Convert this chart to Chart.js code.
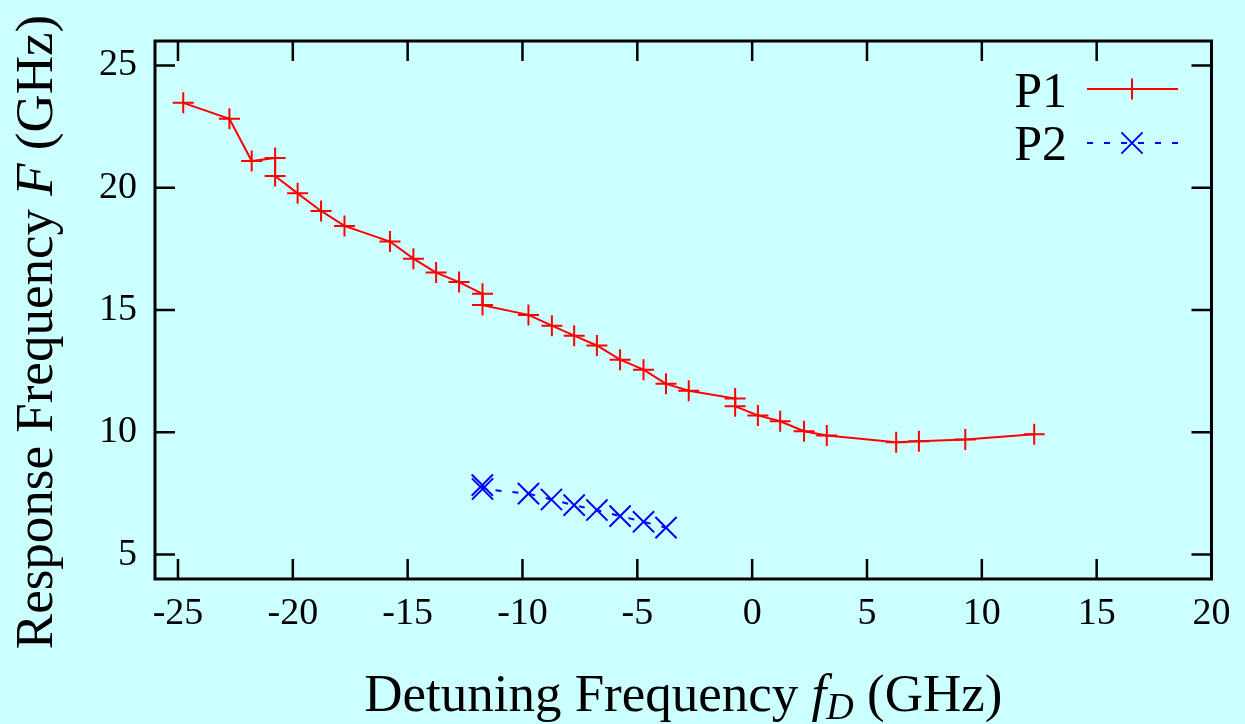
<!DOCTYPE html>
<html>
<head>
<meta charset="utf-8">
<script src="https://cdn.jsdelivr.net/npm/chart.js@4.4.1/dist/chart.umd.min.js"></script>
<style>
  html, body { margin: 0; padding: 0; background: #ccffff; }
  #wrap { width: 1245px; height: 724px; position: relative; }
</style>
</head>
<body>
<div id="wrap"><canvas id="chart"></canvas></div>
<script>
// ---------------------------------------------------------------------------
// Data
// ---------------------------------------------------------------------------
const p1X = [-24.77, -22.76, -21.79, -20.77, -20.77, -19.79, -18.77, -17.75, -15.77, -14.75,
             -13.76, -12.76, -11.74, -11.74, -9.74, -8.72, -7.75, -6.76, -5.75, -4.73,
             -3.75, -2.76, -0.74, -0.74, 0.25, 1.22, 2.26, 3.25, 6.27, 7.26, 9.28, 12.28];
const p1Y = [23.47, 22.82, 21.09, 21.22, 20.48, 19.77, 19.05, 18.44, 17.8, 17.1,
             16.53, 16.14, 15.66, 15.2, 14.8, 14.36, 13.95, 13.55, 12.97, 12.56,
             11.98, 11.7, 11.38, 11.06, 10.69, 10.45, 10.04, 9.87, 9.59, 9.63, 9.7, 9.92];

const p2X = [-11.75, -11.74, -9.74, -8.74, -7.75, -6.76, -5.75, -4.73, -3.75];
const p2Y = [7.84, 7.68, 7.49, 7.25, 7.02, 6.82, 6.57, 6.34, 6.1];

const xTicks = [-25, -20, -15, -10, -5, 0, 5, 10, 15, 20];
const yTicks = [5, 10, 15, 20, 25];

const seriesNames = ["P1", "P2"];

const SERIF = "'Liberation Serif', serif";
const RED = "#ff0000";
const BLUE = "#0000ff";

const toPoints = (xs, ys) => xs.map((x, i) => ({ x, y: ys[i] }));

// ---------------------------------------------------------------------------
// Background, frame, inward ticks on all four sides
// ---------------------------------------------------------------------------
const frame = {
  id: "frame",
  beforeDraw(chart) {
    const ctx = chart.ctx;
    ctx.save();
    ctx.fillStyle = "#ccffff";
    ctx.fillRect(0, 0, chart.width, chart.height);
    ctx.restore();
  },
  afterDraw(chart) {
    const { ctx, chartArea: a, scales } = chart;
    const len = 20;
    ctx.save();
    ctx.strokeStyle = "#000";
    ctx.lineWidth = 2.5;
    ctx.beginPath();
    for (const v of xTicks) {
      const px = scales.x.getPixelForValue(v);
      ctx.moveTo(px, a.bottom); ctx.lineTo(px, a.bottom - len);
      ctx.moveTo(px, a.top); ctx.lineTo(px, a.top + len);
    }
    for (const v of yTicks) {
      const py = scales.y.getPixelForValue(v);
      ctx.moveTo(a.left, py); ctx.lineTo(a.left + len, py);
      ctx.moveTo(a.right, py); ctx.lineTo(a.right - len, py);
    }
    ctx.stroke();
    ctx.lineWidth = 3;
    ctx.strokeRect(a.left, a.top, a.right - a.left, a.bottom - a.top);
    ctx.restore();
  }
};

// ---------------------------------------------------------------------------
// Axis titles (with italic symbols) and the legend in the top right corner
// ---------------------------------------------------------------------------
function drawRich(ctx, parts, cx, baseY) {
  let w = 0;
  for (const p of parts) { ctx.font = p.font; w += ctx.measureText(p.text).width; }
  let x = cx - w / 2;
  for (const p of parts) {
    ctx.font = p.font;
    ctx.fillText(p.text, x, baseY + (p.dy || 0));
    x += ctx.measureText(p.text).width;
  }
}

const titles = {
  id: "titles",
  afterDraw(chart) {
    const { ctx, chartArea: a } = chart;
    ctx.save();
    ctx.fillStyle = "#000";
    ctx.textBaseline = "alphabetic";
    ctx.textAlign = "left";

    const cx = (a.left + a.right) / 2;
    drawRich(ctx, [
      { text: "Detuning Frequency ", font: "53px " + SERIF },
      { text: "f", font: "italic 53px " + SERIF },
      { text: "D", font: "italic 38px " + SERIF, dy: 8 },
      { text: " (GHz)", font: "53px " + SERIF },
    ], cx, 711);

    ctx.translate(52, 332);
    ctx.rotate(-Math.PI / 2);
    drawRich(ctx, [
      { text: "Response Frequency ", font: "53px " + SERIF },
      { text: "F", font: "italic 53px " + SERIF },
      { text: " (GHz)", font: "53px " + SERIF },
    ], 0, 0);
    ctx.restore();

    // legend
    ctx.save();
    ctx.font = "50px " + SERIF;
    ctx.textAlign = "right";
    ctx.fillStyle = "#000";
    ctx.fillText(seriesNames[0], 1067, 107);
    ctx.fillText(seriesNames[1], 1067, 160);

    ctx.lineWidth = 2;
    ctx.strokeStyle = RED;
    ctx.beginPath();
    ctx.moveTo(1087, 89); ctx.lineTo(1178, 89);
    ctx.moveTo(1132 - 10.5, 89); ctx.lineTo(1132 + 10.5, 89);
    ctx.moveTo(1132, 89 - 10.5); ctx.lineTo(1132, 89 + 10.5);
    ctx.stroke();

    ctx.strokeStyle = BLUE;
    ctx.setLineDash([6, 11]);
    ctx.beginPath();
    ctx.moveTo(1087, 143); ctx.lineTo(1178, 143);
    ctx.stroke();
    ctx.setLineDash([]);
    const r = 10.6;
    ctx.beginPath();
    ctx.moveTo(1132 - r, 143 - r); ctx.lineTo(1132 + r, 143 + r);
    ctx.moveTo(1132 + r, 143 - r); ctx.lineTo(1132 - r, 143 + r);
    ctx.stroke();
    ctx.restore();
  }
};

// ---------------------------------------------------------------------------
// Chart
// ---------------------------------------------------------------------------
new Chart(document.getElementById("chart"), {
  type: "scatter",
  data: {
    datasets: [
      {
        label: seriesNames[0],
        data: toPoints(p1X, p1Y),
        showLine: true,
        borderColor: RED,
        borderWidth: 2,
        pointStyle: "cross",
        pointRadius: 10.5,
        pointBorderWidth: 2,
        pointBorderColor: RED,
        pointBackgroundColor: RED,
      },
      {
        label: seriesNames[1],
        data: toPoints(p2X, p2Y),
        showLine: true,
        borderColor: BLUE,
        borderWidth: 2,
        borderDash: [6, 11],
        pointStyle: "crossRot",
        pointRadius: 15,
        pointBorderWidth: 2,
        pointBorderColor: BLUE,
        pointBackgroundColor: BLUE,
      }
    ]
  },
  options: {
    responsive: true,
    maintainAspectRatio: false,
    animation: false,
    events: [],
    layout: { padding: { left: 99, right: 33.5, top: 41, bottom: 87 } },
    plugins: { legend: { display: false }, tooltip: { enabled: false } },
    scales: {
      x: {
        type: "linear",
        min: -26, max: 20,
        afterBuildTicks: s => { s.ticks = xTicks.map(v => ({ value: v })); },
        afterFit: s => { s.height = 58; s.paddingLeft = 0; s.paddingRight = 0; },
        grid: { display: false, drawTicks: false },
        border: { display: false },
        ticks: { padding: 12, color: "#000", font: { family: SERIF, size: 38 }, maxRotation: 0 },
      },
      y: {
        type: "linear",
        min: 4, max: 26,
        afterBuildTicks: s => { s.ticks = yTicks.map(v => ({ value: v })); },
        afterFit: s => { s.width = 56; s.paddingTop = 0; s.paddingBottom = 0; },
        grid: { display: false, drawTicks: false },
        border: { display: false },
        ticks: { padding: 18, color: "#000", font: { family: SERIF, size: 38 } },
      }
    }
  },
  plugins: [frame, titles]
});
</script>
</body>
</html>
